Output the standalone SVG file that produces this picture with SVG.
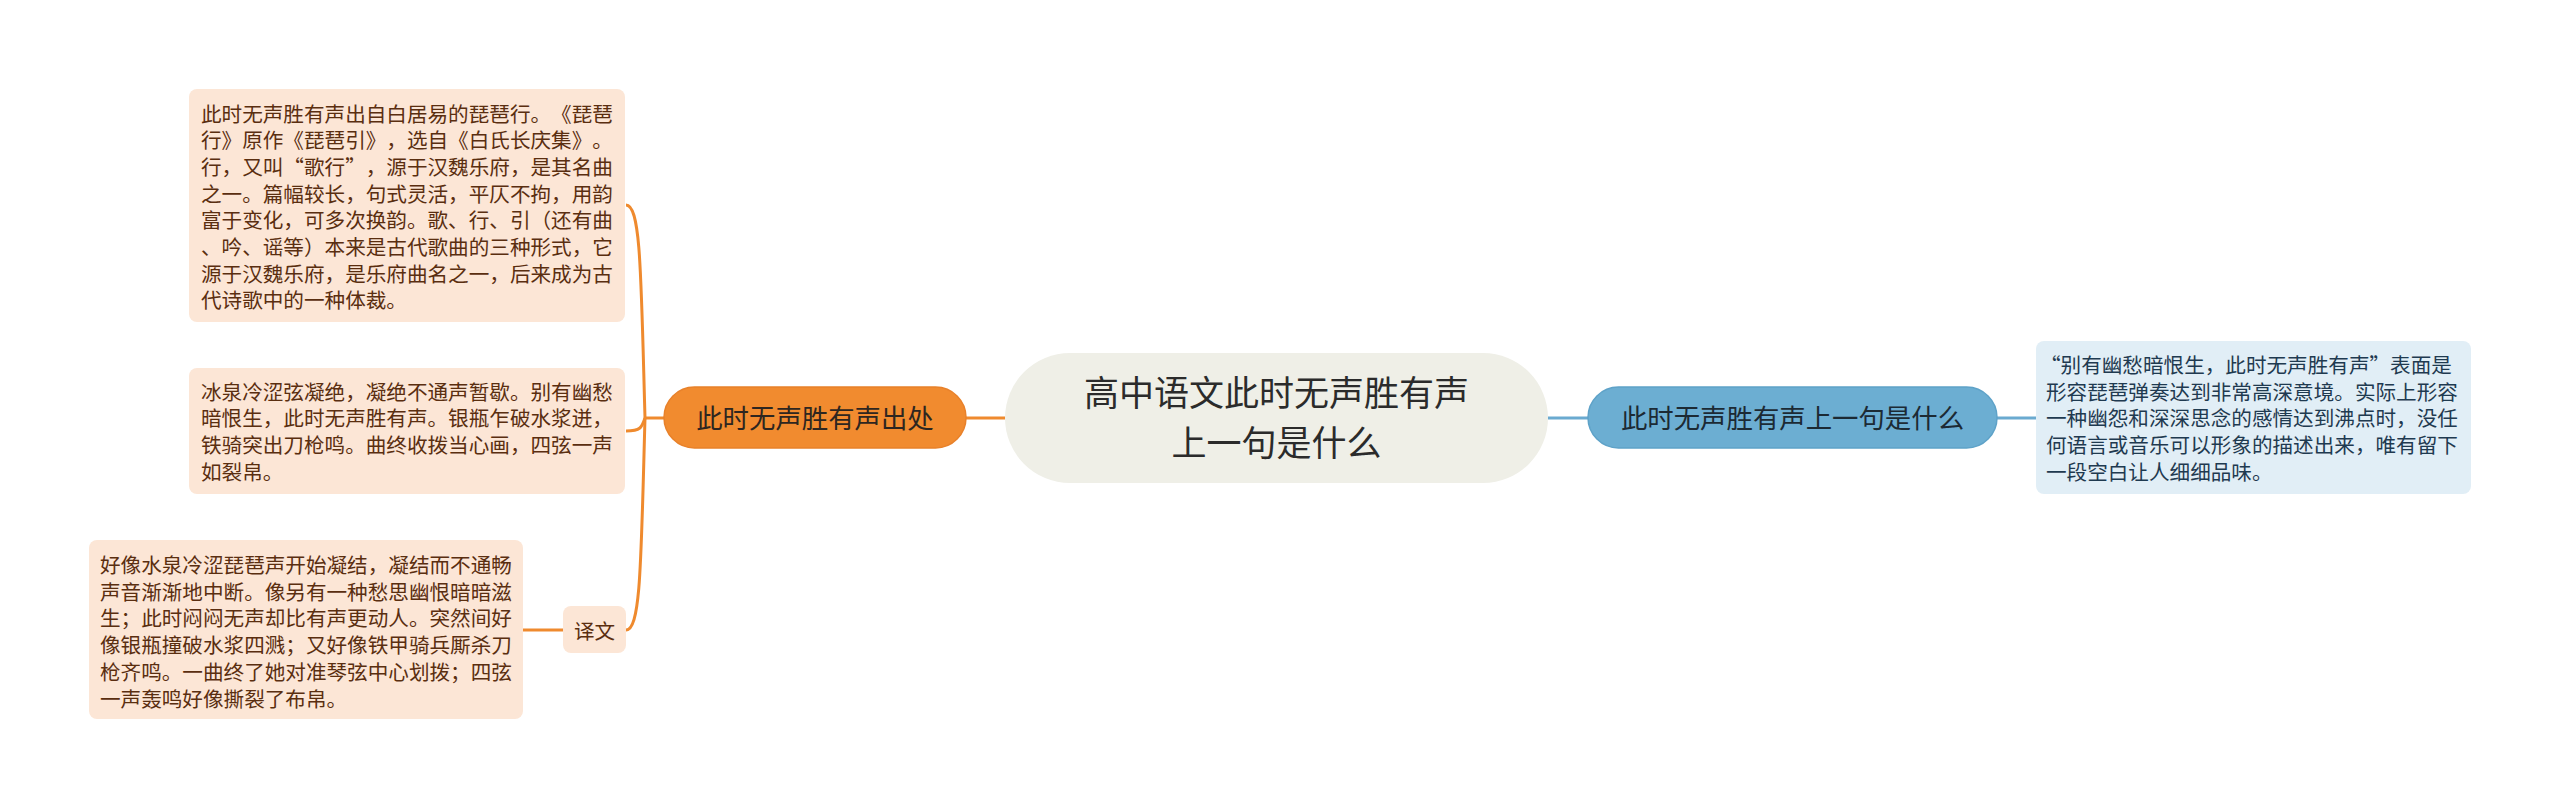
<svg xmlns="http://www.w3.org/2000/svg" width="2560" height="809" viewBox="0 0 2560 809">
<style>
  text { font-family: "Noto Sans CJK SC", "Noto Sans", sans-serif; text-spacing-trim: space-all; font-kerning: none; font-feature-settings: "palt" 0, "halt" 0, "chws" 0; }
  .peach { fill: #fce6d6; }
  .ptxt { font-size: 20.6px; fill: #5a2e10; }
  .btxt { font-size: 20.6px; fill: #1f3a50; }
  .olink { fill: none; stroke: #ef8a2e; stroke-width: 3; }
  .blink { fill: none; stroke: #6aaad0; stroke-width: 3; }
</style>
<rect width="2560" height="809" fill="#ffffff"/>
<g id="connectors">
  <path class="olink" d="M 1005 418 L 966 418"/>
  <path class="olink" d="M 664 418 L 645 418"/>
  <path class="olink" d="M 645 418 C 641 276, 641 205, 626 205"/>
  <path class="olink" d="M 645 418 C 642 427, 641 431, 626 431"/>
  <path class="olink" d="M 645 418 C 641 560, 641 630, 626 630"/>
  <path class="olink" d="M 563 630 L 523 630"/>
  <path class="blink" d="M 1548 418 L 1588 418"/>
  <path class="blink" d="M 1997 418 L 2036 418"/>
</g>
<g id="center">
  <rect x="1005" y="353" width="543" height="130" rx="65" ry="65" fill="#efefe7"/>
  <text x="1276.5" y="406.3" text-anchor="middle" font-size="35" fill="#2b2b2b">高中语文此时无声胜有声</text>
  <text x="1276.5" y="456.3" text-anchor="middle" font-size="35" fill="#2b2b2b">上一句是什么</text>
</g>
<g id="branch-left">
  <rect x="664" y="387" width="302" height="61" rx="30.5" ry="30.5" fill="#f18b2f" stroke="#e8812a" stroke-width="1.5"/>
  <text x="815" y="428" text-anchor="middle" font-size="26.4" fill="#2e2620">此时无声胜有声出处</text>
</g>
<g id="branch-right">
  <rect x="1588" y="387" width="409" height="61" rx="30.5" ry="30.5" fill="#6caed2" stroke="#5ea2c8" stroke-width="1.5"/>
  <text x="1792.5" y="428" text-anchor="middle" font-size="26.4" fill="#1c2a34">此时无声胜有声上一句是什么</text>
</g>
<g id="note-origin">
  <rect class="peach" x="189" y="89" width="436" height="233" rx="8" ry="8"/>
  <text class="ptxt" x="201" y="121.5">此时无声胜有声出自白居易的琵琶行。《琵琶</text>
  <text class="ptxt" x="201" y="148.2">行》原作《琵琶引》，选自《白氏长庆集》。</text>
  <text class="ptxt" x="201" y="174.9">行，又叫“歌行”，源于汉魏乐府，是其名曲</text>
  <text class="ptxt" x="201" y="201.6">之一。篇幅较长，句式灵活，平仄不拘，用韵</text>
  <text class="ptxt" x="201" y="228.3">富于变化，可多次换韵。歌、行、引（还有曲</text>
  <text class="ptxt" x="201" y="255">、吟、谣等）本来是古代歌曲的三种形式，它</text>
  <text class="ptxt" x="201" y="281.7">源于汉魏乐府，是乐府曲名之一，后来成为古</text>
  <text class="ptxt" x="201" y="308.4">代诗歌中的一种体裁。</text>
</g>
<g id="note-poem">
  <rect class="peach" x="189" y="368" width="436" height="126" rx="8" ry="8"/>
  <text class="ptxt" x="201" y="399.5">冰泉冷涩弦凝绝，凝绝不通声暂歇。别有幽愁</text>
  <text class="ptxt" x="201" y="426.2">暗恨生，此时无声胜有声。银瓶乍破水浆迸，</text>
  <text class="ptxt" x="201" y="452.9">铁骑突出刀枪鸣。曲终收拨当心画，四弦一声</text>
  <text class="ptxt" x="201" y="479.6">如裂帛。</text>
</g>
<g id="translation-label">
  <rect class="peach" x="563" y="606" width="63" height="47" rx="8" ry="8"/>
  <text class="ptxt" x="594.5" y="638.5" text-anchor="middle">译文</text>
</g>
<g id="note-translation">
  <rect class="peach" x="89" y="540" width="434" height="179" rx="8" ry="8"/>
  <text class="ptxt" x="100" y="573">好像水泉冷涩琵琶声开始凝结，凝结而不通畅</text>
  <text class="ptxt" x="100" y="599.7">声音渐渐地中断。像另有一种愁思幽恨暗暗滋</text>
  <text class="ptxt" x="100" y="626.4">生；此时闷闷无声却比有声更动人。突然间好</text>
  <text class="ptxt" x="100" y="653.1">像银瓶撞破水浆四溅；又好像铁甲骑兵厮杀刀</text>
  <text class="ptxt" x="100" y="679.8">枪齐鸣。一曲终了她对准琴弦中心划拨；四弦</text>
  <text class="ptxt" x="100" y="706.5">一声轰鸣好像撕裂了布帛。</text>
</g>
<g id="note-meaning">
  <rect x="2036" y="341" width="435" height="153" rx="8" ry="8" fill="#e1eef6"/>
  <text class="btxt" x="2040" y="373">“别有幽愁暗恨生，此时无声胜有声”表面是</text>
  <text class="btxt" x="2046" y="399.7">形容琵琶弹奏达到非常高深意境。实际上形容</text>
  <text class="btxt" x="2046" y="426.4">一种幽怨和深深思念的感情达到沸点时，没任</text>
  <text class="btxt" x="2046" y="453.1">何语言或音乐可以形象的描述出来，唯有留下</text>
  <text class="btxt" x="2046" y="479.8">一段空白让人细细品味。</text>
</g>
</svg>
